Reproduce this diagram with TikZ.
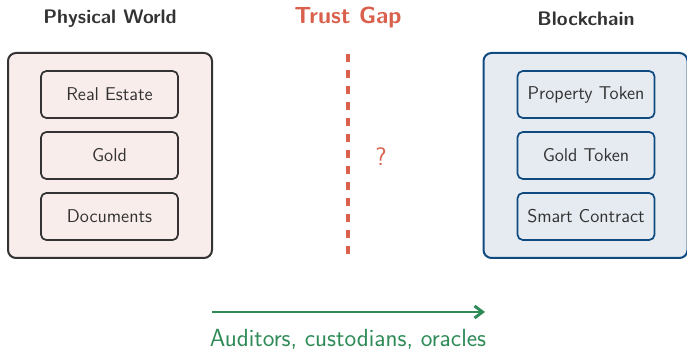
\documentclass[tikz,border=0pt]{standalone}
\usetikzlibrary{arrows.meta}
\definecolor{inkgray}{HTML}{333333}
\definecolor{physfill}{HTML}{F9EDEB}
\definecolor{chainblue}{HTML}{0F4A80}
\definecolor{chainfill}{HTML}{E6EBF2}
\definecolor{gapred}{HTML}{D9604C}
\definecolor{bridgegreen}{HTML}{2E8B57}
\begin{document}
\begin{tikzpicture}[x=0.75pt,y=-0.75pt,
  outerbox/.style={rounded corners=6pt, line width=1.5pt, minimum width=153pt, minimum height=153.75pt, inner sep=0pt},
  itembox/.style={rounded corners=4pt, line width=1.3pt, minimum width=102.75pt, minimum height=35.25pt, inner sep=0pt,
    text=inkgray, font=\sffamily\fontsize{13.9}{15}\selectfont},
  physbox/.style={draw=inkgray, fill=physfill},
  chainbox/.style={draw=chainblue, fill=chainfill},
  heading/.style={text=inkgray, font=\sffamily\bfseries\fontsize{14.7}{16}\selectfont}
]
\useasboundingbox (0,0) rectangle (687,349);

% column headings
\node[heading] (physT) at (110,19) {Physical World};
\node[heading] (chainT) at (586,19) {Blockchain};
\node[text=gapred, font=\sffamily\bfseries\fontsize{17.5}{19}\selectfont] (gapT) at (348,18) {Trust Gap};

% physical side
\node[outerbox, physbox] (phys) at (110,155.5) {};
\node[itembox, physbox] (estate) at (109.5,94.5) {Real Estate};
\node[itembox, physbox] (gold) at (109.5,155.5) {Gold};
\node[itembox, physbox] (docs) at (109.5,216.5) {Documents};

% blockchain side
\node[outerbox, chainbox] (chain) at (585.5,155.5) {};
\node[itembox, chainbox] (ptoken) at (586,94.5) {Property Token};
\node[itembox, chainbox] (gtoken) at (586,155.5) {Gold Token};
\node[itembox, chainbox] (smart) at (586,216.5) {Smart Contract};

% the gap between the two worlds
\coordinate (gapTop) at (348,54);
\coordinate (gapBot) at (348,256);
\draw[gapred, line width=2.4pt, dash pattern=on 6pt off 6pt] (gapTop) -- (gapBot);
\node[text=gapred, font=\sffamily\fontsize{19}{21}\selectfont] (q) at (381,157) {?};

% intermediaries bridging the gap
\coordinate (bridgeL) at (212,312);
\coordinate (bridgeR) at (485,312);
\draw[bridgegreen, line width=2.2pt, -{Straight Barb[length=6pt,width=9pt]}] (bridgeL) -- (bridgeR);
\node[text=bridgegreen, font=\sffamily\fontsize{18.6}{20}\selectfont] (bridgeLbl) at (348,339) {Auditors, custodians, oracles};
\end{tikzpicture}
\end{document}
